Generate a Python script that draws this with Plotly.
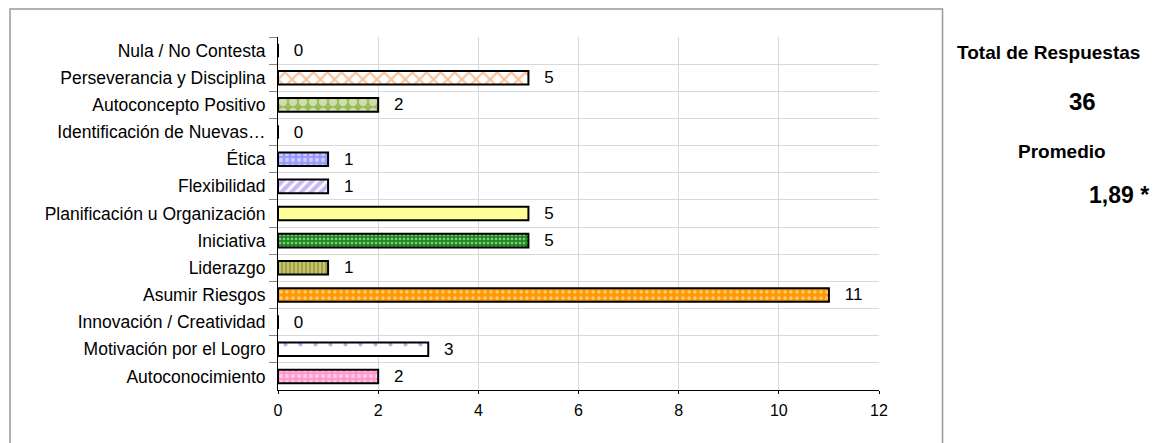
import plotly.graph_objects as go

categorias = [
    "Nula / No Contesta",
    "Perseverancia y Disciplina",
    "Autoconcepto Positivo",
    "Identificación de Nuevas…",
    "Ética",
    "Flexibilidad",
    "Planificación u Organización",
    "Iniciativa",
    "Liderazgo",
    "Asumir Riesgos",
    "Innovación / Creatividad",
    "Motivación por el Logro",
    "Autoconocimiento",
]
respuestas = [0, 5, 2, 0, 1, 1, 5, 5, 1, 11, 0, 3, 2]

total_respuestas = "36"
promedio = "1,89 *"

# colores y tramas de cada barra (fondo, trama)
fondo = ["#ffffff", "#ffffff", "#9bbb59", "#ffffff", "#9999ff", "#ffffff", "#ffff99",
         "#1a8a1a", "#a3a33a", "#ff9900", "#ffffff", "#ffffff", "#ff99cc"]
trama = ["#000000", "#f0883a", "#ffffff", "#000000", "#ffffff", "#9370e8", "#ffff99",
         "#ffffff", "#ffffff", "#ffffff", "#4477cc", "#4a7fd0", "#ffffff"]
forma = ["", "x", ".", "", ".", "/", "", ".", "|", ".", "", ".", "."]
tam = [8, 10, 10, 8, 6, 7, 8, 4, 4, 6, 8, 15, 6]
solidez = [0.3, 0.4, 0.55, 0.3, 0.4, 0.6, 0.3, 0.35, 0.35, 0.25, 0.3, 0.06, 0.35]

sep = "\u00a0\u00a0\u2009"
fuente = "Liberation Sans, Arial"

fig = go.Figure()
for i, cat in enumerate(categorias):
    fig.add_trace(go.Bar(
        x=[respuestas[i]],
        y=[cat],
        orientation="h",
        width=0.5,
        marker=dict(
            color=fondo[i],
            line=dict(color="black", width=2),
            pattern=dict(shape=forma[i], fgcolor=trama[i], size=tam[i], solidity=solidez[i]),
        ),
        text=[sep + str(respuestas[i])],
        textposition="outside",
        constraintext="none",
        textfont=dict(size=17, color="black", family=fuente),
        cliponaxis=False,
        hoverinfo="x+y",
    ))

# la página deja 8px de margen en el body: se compensa en los márgenes
fig.update_layout(
    width=1158,
    height=443,
    margin=dict(l=270, r=287, t=29, b=61),
    barmode="overlay",
    plot_bgcolor="white",
    paper_bgcolor="white",
    font=dict(family=fuente, size=17, color="black"),
    showlegend=False,
    xaxis=dict(
        range=[0, 12],
        dtick=2,
        showgrid=True,
        gridcolor="#d9d9d9",
        showline=True,
        linecolor="black",
        linewidth=1,
        ticks="outside",
        ticklen=3,
        tickcolor="black",
        tickfont=dict(size=16),
        ticklabelstandoff=3,
        zeroline=False,
        fixedrange=True,
    ),
    yaxis=dict(
        autorange="reversed",
        tickson="boundaries",
        showgrid=True,
        gridcolor="#d9d9d9",
        showline=True,
        linecolor="black",
        linewidth=1,
        ticks="outside",
        ticklen=8,
        tickcolor="#888888",
        tickfont=dict(size=17.5),
        ticklabelstandoff=8,
        fixedrange=True,
    ),
    shapes=[dict(
        type="rect", xref="paper", yref="paper",
        x0=-0.4459, x1=1.1057, y0=-0.25, y1=1.0793,
        line=dict(color="#999999", width=1.5),
    )],
    annotations=[
        dict(text="<b>Total de Respuestas</b>", x=1.282, y=0.955, xref="paper", yref="paper",
             xanchor="center", yanchor="middle", showarrow=False, font=dict(size=19)),
        dict(text="<b>" + total_respuestas + "</b>", x=1.338, y=0.816, xref="paper", yref="paper",
             xanchor="center", yanchor="middle", showarrow=False, font=dict(size=24)),
        dict(text="<b>Promedio</b>", x=1.304, y=0.677, xref="paper", yref="paper",
             xanchor="center", yanchor="middle", showarrow=False, font=dict(size=19)),
        dict(text="<b>" + promedio + "</b>", x=1.399, y=0.552, xref="paper", yref="paper",
             xanchor="center", yanchor="middle", showarrow=False, font=dict(size=23)),
    ],
)

fig.write_html("out.html")
